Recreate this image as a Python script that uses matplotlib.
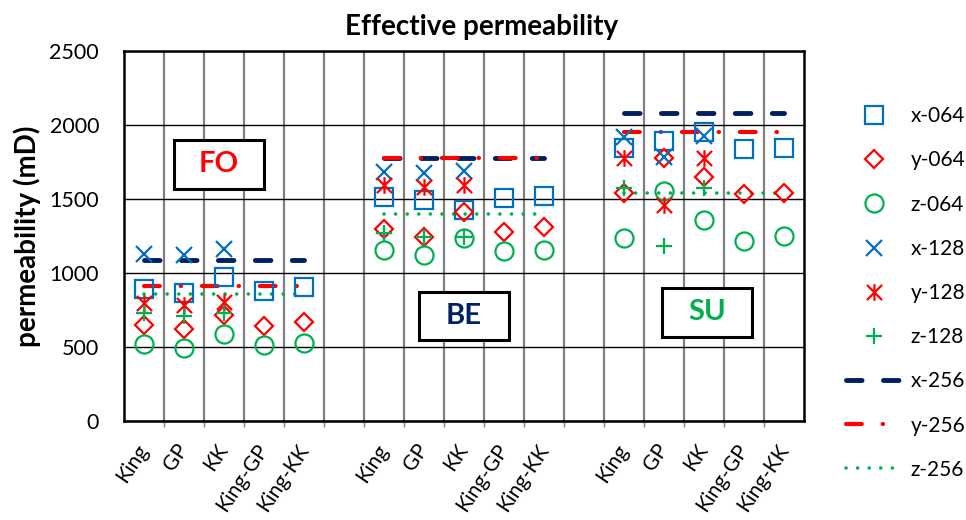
import numpy as np
import matplotlib
matplotlib.use("Agg")
import matplotlib.pyplot as plt
from matplotlib.path import Path
from matplotlib.patches import Rectangle
from matplotlib.transforms import ScaledTranslation

FONT = ["Lato", "DejaVu Sans"]
plt.rcParams["font.family"] = FONT

# ---- data ----
groups = ["FO", "BE", "SU"]
methods = ["King", "GP", "KK", "King-GP", "King-KK"]
nan = np.nan
x064 = [890, 867, 971, 880, 907,   1511, 1493, 1426, 1505, 1520,   1842, 1894, 1955, 1836, 1842]
y064 = [649, 619, 714, 642, 671,   1295, 1245, 1414, 1279, 1309,   1538, 1775, 1651, 1534, 1538]
z064 = [520, 491, 588, 514, 525,   1155, 1122, 1234, 1151, 1155,   1234, 1556, 1358, 1218, 1252]
x128 = [1128, 1122, 1160, nan, nan,  1685, 1678, 1691, nan, nan,  1917, 1782, 1926, nan, nan]
y128 = [800, 784, 806, nan, nan,     1595, 1583, 1595, nan, nan,  1775, 1459, 1775, nan, nan]
z128 = [727, 709, 727, nan, nan,     1268, 1245, 1245, nan, nan,  1572, 1182, 1572, nan, nan]
x256 = [1090, 1775, 2080]
y256 = [912, 1775, 1955]
z256 = [858, 1399, 1538]
group_colors = ["#FF0000", "#002060", "#00B050"]

BLUE = "#0070C0"
RED = "#FF0000"
GREEN = "#00B050"
NAVY = "#002060"

# positions: each group has 5 slots plus one empty slot between groups
pos = np.array([g * 6 + m for g in range(len(groups)) for m in range(len(methods))])
ticklabels = [""] * 17
for g in range(len(groups)):
    for m, name in enumerate(methods):
        ticklabels[g * 6 + m] = name

fig = plt.figure(figsize=(9.66, 5.2), dpi=100)
ax = fig.add_axes([124 / 966, 99 / 520, 680 / 966, 370 / 520])

# asterisk marker (X with vertical bar)
star = Path([(-0.5, -0.5), (0.5, 0.5), (-0.5, 0.5), (0.5, -0.5), (0, -0.55), (0, 0.55)],
            [Path.MOVETO, Path.LINETO] * 3)

mk = dict(linestyle="none", markerfacecolor="none", markeredgewidth=1.6)
ax.plot(pos, x064, marker="s", markersize=13, markeredgecolor=BLUE, label="x-064", zorder=5, **mk)
ax.plot(pos, y064, marker="D", markersize=9.5, markeredgecolor=RED, label="y-064", zorder=5, **mk)
ax.plot(pos, z064, marker="o", markersize=13, markeredgecolor=GREEN, label="z-064", zorder=5, **mk)
ax.plot(pos, x128, marker="x", markersize=11, markeredgecolor=BLUE, label="x-128", zorder=5, **mk)
ax.plot(pos, y128, marker=star, markersize=12, markeredgecolor=RED, label="y-128", zorder=5, **mk)
ax.plot(pos, z128, marker="+", markersize=12, markeredgecolor=GREEN, label="z-128", zorder=5, **mk)

for g in range(len(groups)):
    xs = [g * 6, g * 6 + 4]
    ax.plot(xs, [x256[g]] * 2, color=NAVY, lw=3.5, linestyle=(0, (3.2, 4.4)),
            dash_capstyle="round", label="x-256" if g == 0 else None, zorder=4)
    ax.plot(xs, [y256[g]] * 2, color=RED, lw=3.0, linestyle=(0, (3.8, 5.0, 0.1, 5.0)),
            dash_capstyle="round", label="y-256" if g == 0 else None, zorder=4)
    ax.plot(xs, [z256[g]] * 2, color=GREEN, lw=2.6, linestyle=(0, (0.01, 3.2)),
            dash_capstyle="round", label="z-256" if g == 0 else None, zorder=4)

# group label boxes
boxes = [(0.75, 1568, 2.25, 331), (6.875, 547, 2.25, 325), (12.95, 568, 2.25, 331)]
for g, (bx, by, bw, bh) in enumerate(boxes):
    ax.add_patch(Rectangle((bx, by), bw, bh, facecolor="white", edgecolor="black",
                           lw=2.2, zorder=6))
    ax.text(bx + bw / 2, by + bh / 2, groups[g], color=group_colors[g], fontsize=21,
            fontweight="bold", ha="center", va="center", zorder=7)

ax.set_xlim(-0.5, 16.5)
ax.set_ylim(0, 2500)
ax.set_yticks(np.arange(0, 2501, 500))
ax.set_xticks(np.arange(17))
ax.set_xticklabels(ticklabels, rotation=56, ha="right", va="center",
                   rotation_mode="anchor", fontsize=15)
shift = ScaledTranslation(9 / 100, 0, fig.dpi_scale_trans)
for lab in ax.get_xticklabels():
    lab.set_transform(lab.get_transform() + shift)
ax.set_xticks(np.arange(0.5, 16.5, 1), minor=True)
ax.tick_params(axis="x", which="major", length=0, pad=18)
ax.tick_params(axis="x", which="minor", length=4, width=1, color="#808080", direction="out")
ax.tick_params(axis="y", length=0, labelsize=15.5, pad=18)
ax.grid(True, axis="y", which="major", color="black", lw=1)
ax.grid(True, axis="x", which="minor", color="#808080", lw=1.6)
ax.set_axisbelow(True)
for s in ax.spines.values():
    s.set_linewidth(1.8)
    s.set_color("black")

fig.text(482 / 966, 1 - 27 / 520, "Effective permeability", ha="center", va="center",
         fontsize=20, fontweight="bold")
fig.text(27 / 966, 1 - 236 / 520, "permeability (mD)", ha="center", va="center", rotation=90,
         fontsize=20, fontweight="bold")

leg = fig.legend(loc="upper left", bbox_to_anchor=(838 / 966, 1 - 98 / 520), frameon=False,
                 fontsize=15, handlelength=2.7, labelspacing=1.16, handletextpad=0.4,
                 borderaxespad=0)

fig.savefig("out.png", dpi=100)
